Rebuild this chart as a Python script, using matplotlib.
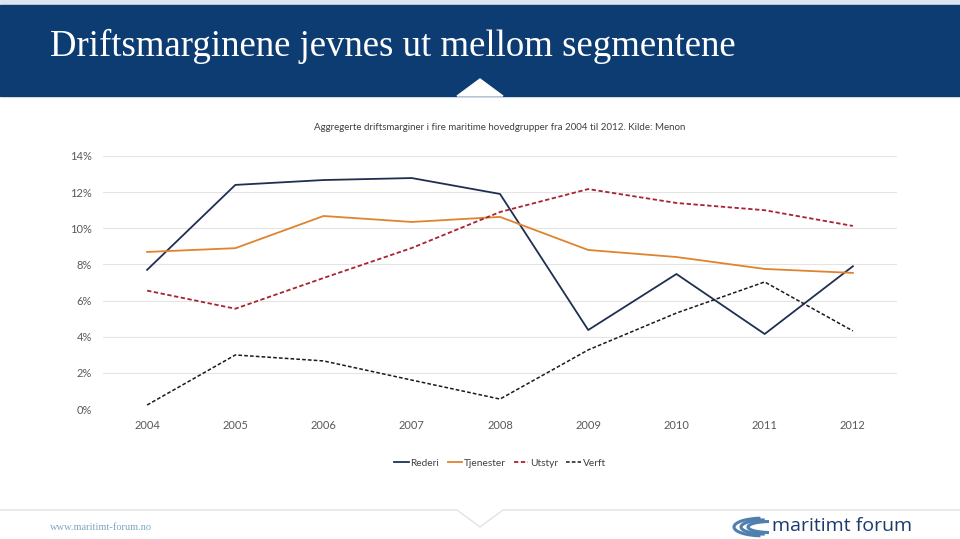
import matplotlib
matplotlib.use("Agg")
import matplotlib.pyplot as plt
from matplotlib.patches import Rectangle, Polygon, Arc
from matplotlib.ticker import PercentFormatter

years = [2004, 2005, 2006, 2007, 2008, 2009, 2010, 2011, 2012]
rederi = [7.7, 12.4, 12.67, 12.78, 11.9, 4.37, 7.47, 4.15, 7.9]
tjenester = [8.69, 8.9, 10.68, 10.35, 10.63, 8.8, 8.41, 7.75, 7.53]
utstyr = [6.55, 5.55, 7.25, 8.91, 10.9, 12.17, 11.4, 11.0, 10.13]
verft = [0.22, 2.99, 2.66, 1.6, 0.55, 3.27, 5.31, 7.03, 4.32]

W, H = 960, 539
fig = plt.figure(figsize=(W / 100, H / 100), dpi=100)

# slide decoration in pixel coordinates
bg = fig.add_axes([0, 0, 1, 1], zorder=0)
bg.set_xlim(0, W)
bg.set_ylim(H, 0)
bg.axis("off")
bg.add_patch(Rectangle((0, 0), W, 5, color="#dce6ef"))
bg.add_patch(Rectangle((0, 5), W, 91, color="#0d3c73"))
bg.add_patch(Polygon([(457, 96), (480, 79), (503, 96)], closed=True, color="white"))
bg.text(50, 46, "Driftsmarginene jevnes ut mellom segmentene", color="white",
        family="Liberation Serif", fontsize=26.5, va="center", ha="left")
bg.plot([0, 457, 480, 503, W], [510, 510, 527, 510, 510], color="#e3e3e3", lw=1)
bg.text(50, 527, "www.maritimt-forum.no", color="#7fa6c2",
        family="Liberation Serif", fontsize=7.5, va="center", ha="left")
for i, r in enumerate([16, 13, 10]):
    bg.add_patch(Arc((762 + i * 4, 527), 2 * r + 24, r * 1.1, theta1=100, theta2=260,
                     color="#4f7fae", lw=2.2))
bg.text(772, 526, "maritimt forum", color="#1c3a6b", family="Open Sans",
        fontsize=14, va="center", ha="left")

ax = fig.add_axes([103 / W, 1 - 409 / H, 794 / W, 253 / H], zorder=1)
ax.patch.set_alpha(0)
ax.plot(years, rederi, color="#1f2f52", lw=1.3, label="Rederi")
ax.plot(years, tjenester, color="#e0832f", lw=1.3, label="Tjenester")
ax.plot(years, utstyr, color="#a8232f", lw=1.3, dashes=(2.4, 1.4), label="Utstyr")
ax.plot(years, verft, color="#1a1a1a", lw=1.1, dashes=(2.4, 1.4), label="Verft")

ax.set_xlim(2003.5, 2012.5)
ax.set_ylim(0, 14)
ax.set_yticks(range(0, 15, 2))
ax.set_xticks(years)
ax.yaxis.set_major_formatter(PercentFormatter(decimals=0))
ax.grid(axis="y", color="#e4e4e4", lw=0.8)
ax.set_axisbelow(True)
for s in ax.spines.values():
    s.set_visible(False)
ax.tick_params(length=0, labelsize=8, labelcolor="#595959", pad=8)
for lab in ax.get_xticklabels() + ax.get_yticklabels():
    lab.set_family("Lato")

ax.set_title("Aggregerte driftsmarginer i fire maritime hovedgrupper fra 2004 til 2012. Kilde: Menon",
             fontsize=7.0, color="#404040", family="Lato", pad=19)
leg = ax.legend(loc="upper center", bbox_to_anchor=(0.5, -0.16), ncol=4, frameon=False,
                handlelength=1.4, columnspacing=0.8, handletextpad=0.2,
                prop={"family": "Lato", "size": 7.3})
for t in leg.get_texts():
    t.set_color("#404040")

fig.savefig("out.png", dpi=100)
